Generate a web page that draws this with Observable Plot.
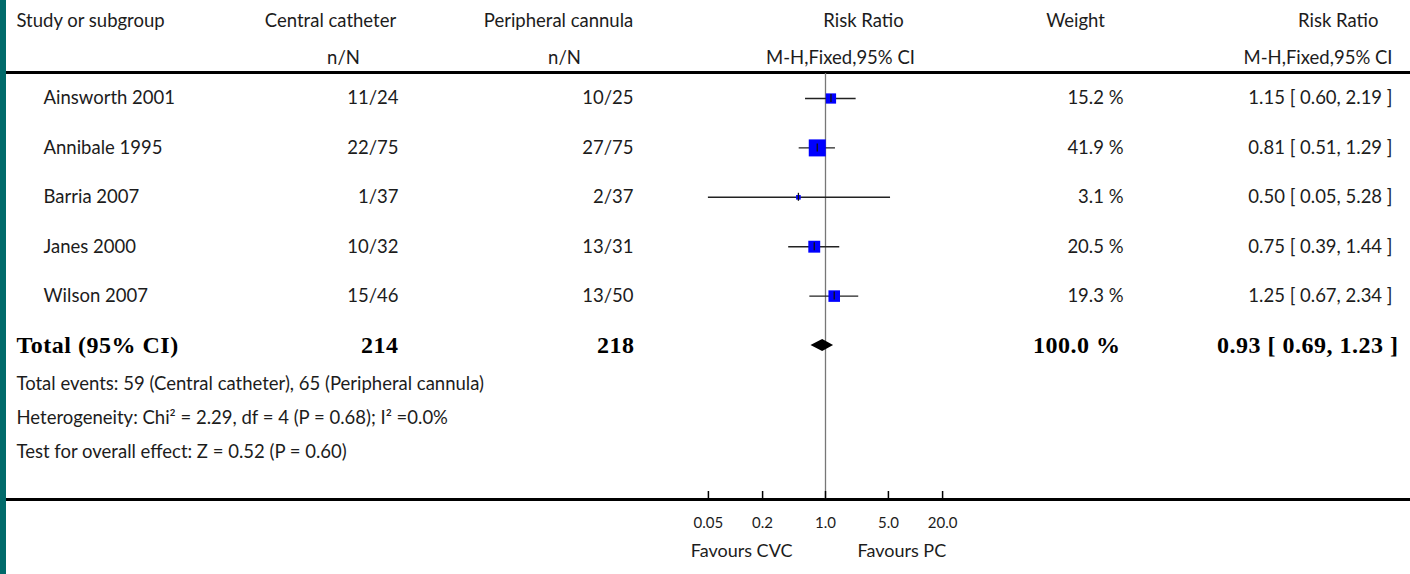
<!DOCTYPE html>
<html><head><meta charset="utf-8">
<script src="https://cdn.jsdelivr.net/npm/d3@7"></script>
<script src="https://cdn.jsdelivr.net/npm/@observablehq/plot@0.6"></script>
<style>
html,body{margin:0;padding:0;background:#fff;}
#chart{position:relative;width:1410px;height:574px;overflow:hidden;}
#chart svg{position:absolute;left:0;top:0;}
#bar{position:absolute;left:0;top:0;width:6px;height:574px;background:#006a6a;z-index:2;}
#chart g[font-family*="Liberation Serif"] text{letter-spacing:0.5px;}
</style></head><body><div id="chart"><div id="bar"></div></div>
<script>
// ---- data ----
const studies = ["Ainsworth 2001","Annibale 1995","Barria 2007","Janes 2000","Wilson 2007"];
const cvcEvents = [11,22,1,10,15];
const cvcTotal = [24,75,37,32,46];
const pcEvents = [10,27,2,13,13];
const pcTotal = [25,75,37,31,50];
const riskRatio = [1.15,0.81,0.50,0.75,1.25];
const ciLower = [0.60,0.51,0.05,0.39,0.67];
const ciUpper = [2.19,1.29,5.28,1.44,2.34];
const weights = [15.2,41.9,3.1,20.5,19.3];
const totalLabel = "Total (95% CI)";
const totalCvc = 214, totalPc = 218, totalWeight = 100.0;
const totalRR = 0.93, totalLower = 0.69, totalUpper = 1.23;
const axisTicks = [0.05,0.2,1,5,20];
const tickLabels = ["0.05","0.2","1.0","5.0","20.0"];
const footnotes = [
  "Total events: 59 (Central catheter), 65 (Peripheral cannula)",
  "Heterogeneity: Chi\u00B2 = 2.29, df = 4 (P = 0.68); I\u00B2 =0.0%",
  "Test for overall effect: Z = 0.52 (P = 0.60)"
];
const headers1 = ["Study or subgroup","Central catheter","Peripheral cannula","Risk Ratio","Weight","Risk Ratio"];
const headers2 = ["n/N","n/N","M-H,Fixed,95% CI","M-H,Fixed,95% CI"];

// ---- layout ----
const W = 1410, H = 574;
const firstRow = 98, rowStep = 49.4;
const yv = p => (p - firstRow) / rowStep;       // pixel row position -> row units
const refX = 825, pxPerDecade = 90;
const xDomain = [10 ** ((0 - refX) / pxPerDecade), 10 ** ((W - refX) / pxPerDecade)];
const sans = "Lato, 'Open Sans', sans-serif";
const serif = "'Liberation Serif', 'Times New Roman', serif";
const ink = "#1c1c1c";
const fs = 18.5;

const rows = studies.map((s, i) => ({
  i, study: s,
  cvc: `${cvcEvents[i]}/${cvcTotal[i]}`,
  pc: `${pcEvents[i]}/${pcTotal[i]}`,
  rr: riskRatio[i], lo: ciLower[i], hi: ciUpper[i], w: weights[i],
  wText: `${weights[i].toFixed(1)} %`,
  rrText: `${riskRatio[i].toFixed(2)} [ ${ciLower[i].toFixed(2)}, ${ciUpper[i].toFixed(2)} ]`
}));
const totalIdx = studies.length;
const dh = 6 / rowStep;
const diamond = [
  {x: totalLower, y1: totalIdx, y2: totalIdx},
  {x: totalRR, y1: totalIdx - dh, y2: totalIdx + dh},
  {x: totalUpper, y1: totalIdx, y2: totalIdx}
];

const leftText = (text, yPx, dx, anchor, extra = {}) =>
  Plot.text([text], {frameAnchor: "left", y: () => yv(yPx), text: d => d, dx, textAnchor: anchor,
    fill: ink, fontFamily: sans, fontSize: fs, ...extra});

const colText = (field, dx, anchor, extra = {}) =>
  Plot.text(rows, {frameAnchor: "left", y: "i", text: field, dx, textAnchor: anchor,
    fill: ink, fontFamily: sans, fontSize: fs, ...extra});

const totalText = (value, fmt, dx) =>
  Plot.text([value], {frameAnchor: "left", y: () => totalIdx, text: fmt, dx, textAnchor: dx < 100 ? "start" : "end",
    fill: "black", fontFamily: serif, fontSize: 24, fontWeight: "bold"});

const chart = Plot.plot({
  width: W, height: H,
  marginLeft: 0, marginRight: 0, marginTop: 0, marginBottom: 0,
  style: {background: "white", overflow: "visible"},
  x: {type: "log", domain: xDomain, range: [0, W], axis: null},
  y: {type: "linear", domain: [0, totalIdx], range: [firstRow, firstRow + totalIdx * rowStep], axis: null},
  r: {type: "sqrt", domain: [0, d3.max(weights)], range: [0, 9.6]},
  marks: [
    // headers
    leftText(headers1[0], 21, 16, "start"),
    leftText(headers1[1], 21, 330, "middle"),
    leftText(headers1[2], 21, 558, "middle"),
    leftText(headers1[3], 21, 863, "middle"),
    leftText(headers1[4], 21, 1075, "middle"),
    leftText(headers1[5], 21, 1378, "end"),
    leftText(headers2[0], 58, 343, "middle"),
    leftText(headers2[1], 58, 564, "middle"),
    leftText(headers2[2], 58, 840, "middle"),
    leftText(headers2[3], 58, 1392, "end"),
    // separators
    Plot.ruleY([yv(72), yv(499)], {y: d => d, stroke: "black", strokeWidth: 3}),
    // reference line
    Plot.ruleX([1], {x: d => d, y1: yv(73), y2: yv(499), stroke: "#777", strokeWidth: 1.3}),
    // study rows text
    colText("study", 43, "start"),
    colText("cvc", 398, "end"),
    colText("pc", 633, "end"),
    colText("wText", 1123, "end"),
    colText("rrText", 1392, "end"),
    // CIs and squares
    Plot.ruleY(rows, {y: "i", x1: "lo", x2: "hi", stroke: "#222", strokeWidth: 1.4}),
    Plot.dot(rows, {x: "rr", y: "i", r: "w", symbol: "square", fill: "#0000ff", stroke: null}),
    Plot.ruleX(rows, {x: "rr", y1: d => d.i - 4 / rowStep, y2: d => d.i + 4 / rowStep, stroke: "#111", strokeWidth: 1.3}),
    // total row
    totalText(totalLabel, d => d, 16),
    totalText(totalCvc, d => String(d), 398),
    totalText(totalPc, d => String(d), 634),
    totalText(totalWeight, d => `${d.toFixed(1)} %`, 1120),
    totalText(totalRR, d => `${d.toFixed(2)} [ ${totalLower.toFixed(2)}, ${totalUpper.toFixed(2)} ]`, 1398),
    Plot.areaY(diamond, {x: "x", y1: "y1", y2: "y2", fill: "black", curve: "linear"}),
    // footnotes
    Plot.text(footnotes, {frameAnchor: "left", y: (d, i) => yv(384 + i * 34), text: d => d, dx: 16, textAnchor: "start", fill: ink, fontFamily: sans, fontSize: fs}),
    // axis
    Plot.ruleX(axisTicks, {x: d => d, y1: yv(491), y2: yv(499), stroke: "black", strokeWidth: 1.5}),
    Plot.text(axisTicks, {x: d => d, y: () => yv(523), text: (d, i) => tickLabels[i], fill: ink, fontFamily: sans, fontSize: 15}),
    Plot.text(["Favours CVC"], {x: () => 1, y: () => yv(551), text: d => d, textAnchor: "end", dx: -33, fill: ink, fontFamily: sans, fontSize: 18}),
    Plot.text(["Favours PC"], {x: () => 1, y: () => yv(551), text: d => d, textAnchor: "start", dx: 32, fill: ink, fontFamily: sans, fontSize: 18})
  ]
});
document.getElementById("chart").appendChild(chart);
</script>
</body></html>
